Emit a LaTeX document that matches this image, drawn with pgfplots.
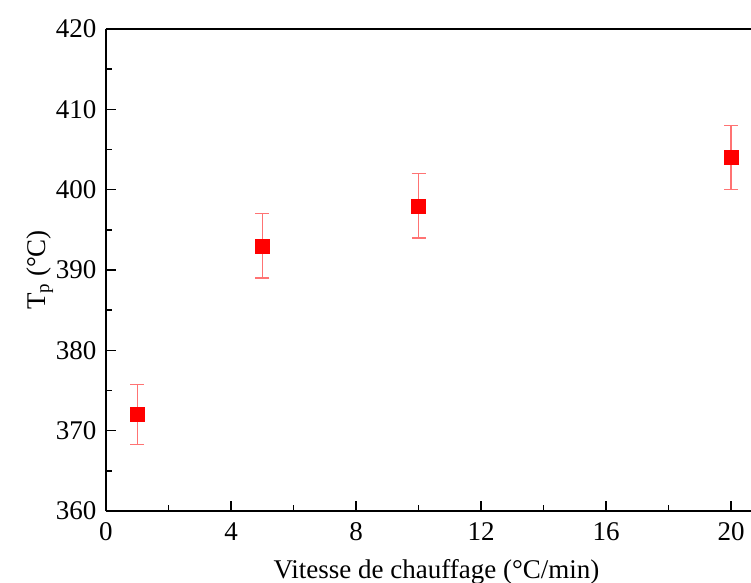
\documentclass[border=0pt]{standalone}
\usepackage{pgfplots}
\pgfplotsset{compat=1.18}
\usepackage{fontspec}
\setmainfont{Liberation Serif}
\begin{document}
\begin{tikzpicture}
\path[use as bounding box] (-106pt,-71pt) rectangle (645pt,511pt);
\begin{axis}[
	at={(0pt,0pt)}, anchor=south west,
	scale only axis,
	width=645pt, height=482pt,
	xmin=0, xmax=20.64,
	ymin=360, ymax=420,
	xtick={0,4,...,20},
	ytick={360,370,...,420},
	minor xtick={2,6,...,18},
	minor ytick={365,375,...,415},
	axis x line=box, axis y line=left,
	axis line style={-, line width=1.6pt},
	xtick pos=bottom, ytick pos=left,
	tick align=inside,
	major tick length=10pt, minor tick length=6pt,
	every tick/.style={black, line width=1.6pt},
	tick label style={font=\fontsize{27}{32}\selectfont},
	xticklabel style={yshift=-8pt},
	yticklabel style={xshift=-6pt},
	/pgf/number format/assume math mode=true,
	xlabel={Vitesse de chauffage (°C/min)},
	ylabel={T\textsubscript{p} (°C)},
	label style={font=\fontsize{27}{32}\selectfont},
	xlabel style={at={(axis description cs:0.5124,-0.141)}, anchor=base},
	ylabel style={at={(axis description cs:-0.1023,0.5)}, anchor=center},
	clip=false,
]
\addplot[
	only marks, mark=square*, mark size=7pt, color=red,
	error bars/.cd, y dir=both, y explicit,
	error bar style={red!55, line width=1.3pt},
	error mark options={rotate=90, mark size=7pt, red!55, line width=1.3pt},
] coordinates {
	(1,372) +- (0,3.75)
	(5,393) +- (0,4)
	(10,398) +- (0,4)
	(20,404) +- (0,4)
};
\end{axis}
\end{tikzpicture}
\end{document}
